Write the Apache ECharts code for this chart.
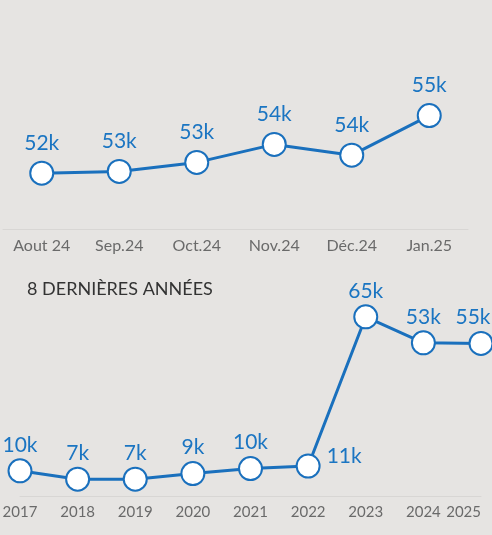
<!DOCTYPE html>
<html>
<head>
<meta charset="utf-8">
<script src="https://cdn.jsdelivr.net/npm/echarts@6/dist/echarts.min.js"></script>
<style>
  html, body { margin: 0; padding: 0; background: #e6e4e2; }
  #chart { width: 492px; height: 535px; }
</style>
</head>
<body>
<div id="chart"></div>
<script>
// monthly visitors (thousands)
var monthLabels = ['Aout 24', 'Sep.24', 'Oct.24', 'Nov.24', 'Déc.24', 'Jan.25'];
var monthValues = [52.1, 52.2, 52.7, 53.7, 53.1, 55.3];
var monthTexts = ['52k', '53k', '53k', '54k', '54k', '55k'];

// yearly visitors (thousands)
var yearLabels = ['2017', '2018', '2019', '2020', '2021', '2022', '2023', '2024', '2025'];
var yearValues = [10, 7, 7, 9, 10.8, 11.7, 65, 55.7, 55.5];
var yearTexts = ['10k', '7k', '7k', '9k', '10k', '11k', '65k', '53k', '55k'];

var blue = '#1a70bd';
var font = 'Lato';

function axisStyle(gridIndex, labels, boundaryGap, size) {
  return {
    type: 'category',
    gridIndex: gridIndex,
    data: labels,
    boundaryGap: boundaryGap,
    axisLine: { lineStyle: { color: '#d8d6d4', width: 1 } },
    axisTick: { show: false },
    axisLabel: { color: '#6a6a6a', fontSize: size, fontFamily: font, margin: 9 }
  };
}

function seriesStyle(idx, data, texts, distance) {
  return {
    type: 'line',
    xAxisIndex: idx,
    yAxisIndex: idx,
    data: data,
    symbol: 'circle',
    symbolSize: 23,
    itemStyle: { color: '#ffffff', borderColor: blue, borderWidth: 2 },
    lineStyle: { color: blue, width: 3 },
    label: {
      show: true,
      position: 'top',
      distance: distance,
      color: '#1b75c2',
      fontSize: 21,
      fontFamily: font,
      formatter: function (p) { return texts[p.dataIndex]; }
    },
    animation: false
  };
}

var yearData = yearValues.map(function (v, i) {
  if (i === 5) return { value: v, label: { position: 'right', distance: 6, offset: [0, -10] } };
  if (i === yearValues.length - 1) return { value: v, label: { offset: [-8, 0] } };
  return v;
});

var yearAxis = axisStyle(1, yearLabels, false, 15);
yearAxis.axisLabel.alignMaxLabel = 'right';

var chart = echarts.init(document.getElementById('chart'));
chart.setOption({
  backgroundColor: '#e6e4e2',
  title: {
    text: '8 DERNIÈRES ANNÉES',
    left: 27,
    top: 280,
    padding: 0,
    textStyle: { color: '#333333', fontSize: 18, fontWeight: 'normal', fontFamily: font }
  },
  grid: [
    { left: 3, width: 465, top: 103, height: 126, outerBoundsMode: 'none' },
    { left: 20, right: 11, top: 300, height: 196, outerBoundsMode: 'none' }
  ],
  xAxis: [
    axisStyle(0, monthLabels, true, 16),
    yearAxis
  ],
  yAxis: [
    { type: 'value', gridIndex: 0, min: 49, max: 56, show: false },
    { type: 'value', gridIndex: 1, min: 1, max: 71, show: false }
  ],
  series: [
    seriesStyle(0, monthValues, monthTexts, 7),
    seriesStyle(1, yearData, yearTexts, 3)
  ]
});
</script>
</body>
</html>
